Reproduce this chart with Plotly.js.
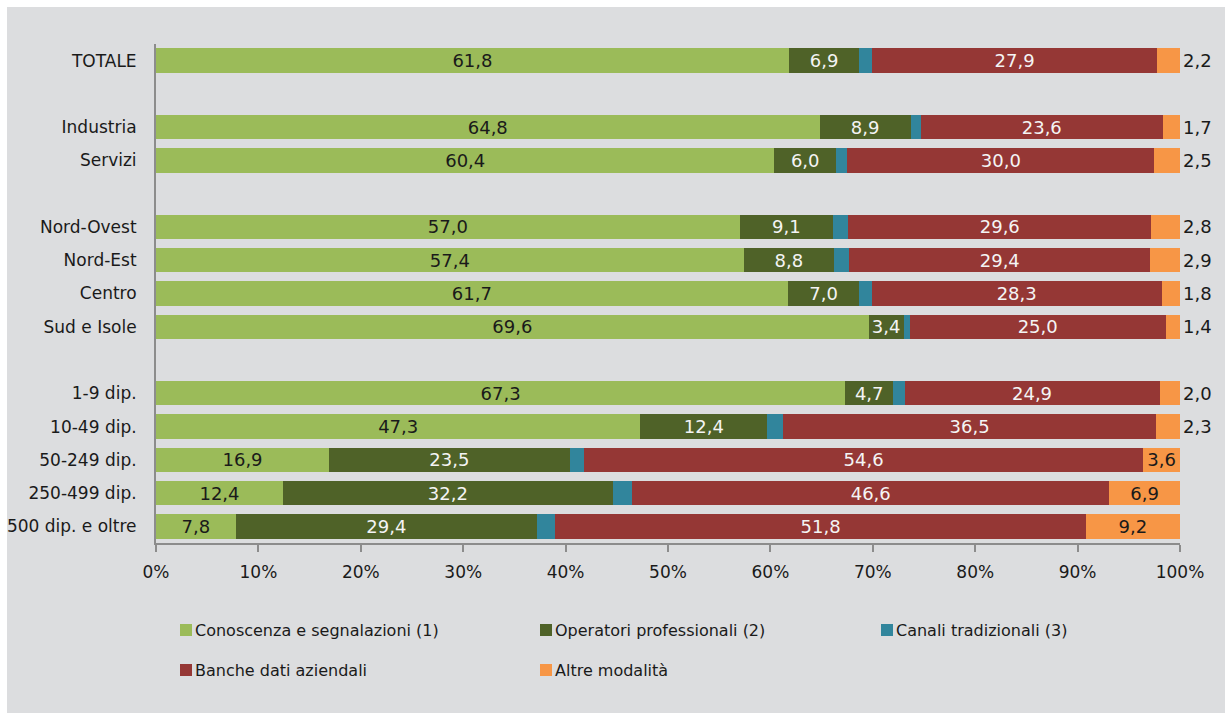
<!DOCTYPE html>
<html>
<head>
<meta charset="utf-8">
<script src="https://cdn.plot.ly/plotly-3.0.1.min.js"></script>
<style>
  html, body { margin: 0; padding: 0; background: #ffffff; width: 1225px; height: 713px; overflow: hidden; }
  #chart { position: absolute; left: 7px; top: 7px; width: 1218px; height: 706px; }
</style>
</head>
<body>
<div id="chart"></div>
<script>
// Category order (with blank spacer rows between groups)
const categories = ['TOTALE', '_g1', 'Industria', 'Servizi', '_g2', 'Nord-Ovest', 'Nord-Est', 'Centro', 'Sud e Isole', '_g3', '1-9 dip.', '10-49 dip.', '50-249 dip.', '250-499 dip.', '500 dip. e oltre'];
// Rows carrying data
const rows = ['TOTALE', 'Industria', 'Servizi', 'Nord-Ovest', 'Nord-Est', 'Centro', 'Sud e Isole', '1-9 dip.', '10-49 dip.', '50-249 dip.', '250-499 dip.', '500 dip. e oltre'];

const conoscenza = [61.8, 64.8, 60.4, 57.0, 57.4, 61.7, 69.6, 67.3, 47.3, 16.9, 12.4, 7.8];
const operatori  = [6.9, 8.9, 6.0, 9.1, 8.8, 7.0, 3.4, 4.7, 12.4, 23.5, 32.2, 29.4];
const canali     = [1.2, 1.0, 1.1, 1.5, 1.5, 1.2, 0.6, 1.1, 1.5, 1.4, 1.9, 1.8];
const banche     = [27.9, 23.6, 30.0, 29.6, 29.4, 28.3, 25.0, 24.9, 36.5, 54.6, 46.6, 51.8];
const altre      = [2.2, 1.7, 2.5, 2.8, 2.9, 1.8, 1.4, 2.0, 2.3, 3.6, 6.9, 9.2];

const seriesNames = ['Conoscenza e segnalazioni (1)', 'Operatori professionali (2)', 'Canali tradizionali (3)', 'Banche dati aziendali', 'Altre modalità'];
const colors = ['#9bbb59', '#4f6228', '#31859c', '#953735', '#f79646'];

const xTicks = [0, 10, 20, 30, 40, 50, 60, 70, 80, 90, 100];

const FONT = 'DejaVu Sans, Liberation Sans, sans-serif';
const FS = 17;       // axis text
const FSLEG = 16;    // legend text
const FSBAR = 18;    // bar value labels
const DARK = '#1a1a1a';

function barTrace(vals, i, labelColor, showText) {
  return {
    type: 'bar', orientation: 'h',
    y: rows, x: vals,
    name: seriesNames[i],
    marker: { color: colors[i] },
    texttemplate: showText ? '%{x:.1f}' : '',
    textposition: showText ? 'inside' : 'none',
    insidetextanchor: 'middle',
    constraintext: 'none',
    textfont: { family: FONT, size: FSBAR, color: labelColor },
    insidetextfont: { family: FONT, size: FSBAR, color: labelColor },
    hoverinfo: 'skip',
    cliponaxis: false
  };
}

const traces = [
  barTrace(conoscenza, 0, DARK, true),
  barTrace(operatori, 1, '#f4f4f4', true),
  barTrace(canali, 2, '#ffffff', false),
  barTrace(banche, 3, '#f4f4f4', true),
  Object.assign(barTrace(altre, 4, DARK, true), {
    textposition: altre.map(v => v < 3 ? 'outside' : 'inside'),
    outsidetextfont: { family: FONT, size: FSBAR, color: DARK }
  })
];

// Plot area geometry inside the chart div (pixels)
const W = 1218, H = 706;
const M = { l: 149, r: 45, t: 37, b: 170 };
const pw = W - M.l - M.r, ph = H - M.t - M.b;
const px = x => (x - 7 - M.l) / pw;        // page x -> paper
const py = y => 1 - (y - 7 - M.t) / ph;    // page y -> paper

// Manual legend (positions in page pixels)
const legendPos = [
  { x: 180, y: 630 }, { x: 540, y: 630 }, { x: 881, y: 630 },
  { x: 180, y: 670 }, { x: 540, y: 670 }
];
const shapes = [];
const annotations = [];
seriesNames.forEach((n, i) => {
  const p = legendPos[i];
  shapes.push({
    type: 'rect', xref: 'paper', yref: 'paper',
    x0: px(p.x), x1: px(p.x + 12), y0: py(p.y + 6), y1: py(p.y - 6),
    fillcolor: colors[i], line: { width: 0 }
  });
  annotations.push({
    xref: 'paper', yref: 'paper', x: px(p.x + 13), y: py(p.y),
    xanchor: 'left', yanchor: 'middle', showarrow: false,
    text: n, font: { family: FONT, size: FSLEG, color: DARK }
  });
});

const layout = {
  width: W, height: H,
  margin: M,
  paper_bgcolor: '#dcdddf',
  plot_bgcolor: '#dcdddf',
  barmode: 'stack',
  bargap: 0.27,
  showlegend: false,
  separators: ',.',
  font: { family: FONT, size: FS, color: DARK },
  xaxis: {
    range: [0, 100.0005],
    tickvals: xTicks,
    ticktext: xTicks.map(v => v + '%'),
    showgrid: false, zeroline: false,
    showline: true, linecolor: '#8c8c8c', linewidth: 2,
    ticks: 'outside', ticklen: 7, tickwidth: 2, tickcolor: '#8c8c8c',
    ticklabelstandoff: 6,
    tickfont: { family: FONT, size: FS, color: DARK },
    fixedrange: true
  },
  yaxis: {
    type: 'category',
    categoryorder: 'array',
    categoryarray: categories,
    range: [categories.length - 0.5, -0.5],
    tickvals: rows, ticktext: rows,
    showgrid: false, zeroline: false,
    showline: true, linecolor: '#8c8c8c', linewidth: 2,
    ticks: '', ticklabelstandoff: 14,
    tickfont: { family: FONT, size: FS, color: DARK },
    fixedrange: true
  },
  shapes: shapes,
  annotations: annotations
};

Plotly.newPlot('chart', traces, layout, { displayModeBar: false, staticPlot: true });
</script>
</body>
</html>
